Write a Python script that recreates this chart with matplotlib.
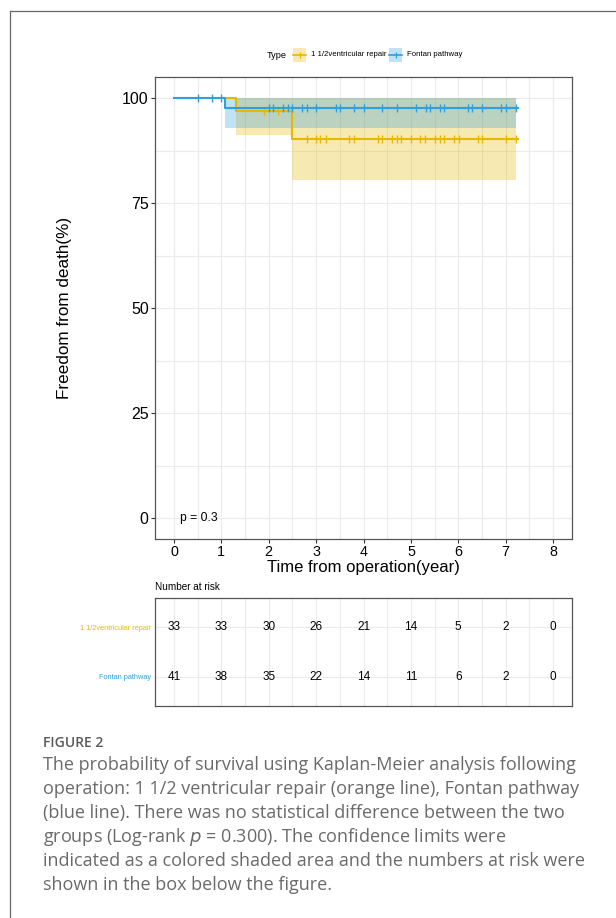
import numpy as np
import matplotlib
matplotlib.use("Agg")
from matplotlib import pyplot as plt
from matplotlib.patches import Rectangle
from matplotlib.lines import Line2D

W, H = 616, 918

# Kaplan-Meier steps (time in years, survival in %)
groups = ["1 1/2ventricular repair", "Fontan pathway"]
colors = ["#E7B800", "#2E9FDF"]

orange_time = [0, 1.31, 2.50]
orange_surv = [100, 96.97, 90.28]
orange_lower = [100, 91.3, 80.4]
orange_upper = [100, 100, 100]
orange_end = 7.25
orange_censor = [1.91, 2.20, 2.80, 3.00, 3.09, 3.20, 3.70, 3.80, 4.30, 4.39, 4.60,
                 4.70, 4.80, 5.00, 5.20, 5.30, 5.51, 5.61, 5.70, 5.91, 6.01, 6.41,
                 6.51, 7.00, 7.21]

blue_time = [0, 1.08]
blue_surv = [100, 97.56]
blue_lower = [100, 92.95]
blue_upper = [100, 100]
blue_end = 7.25
blue_censor = [0.50, 0.80, 0.99, 2.00, 2.10, 2.30, 2.40, 2.50, 2.71, 2.80, 3.00,
               3.41, 3.50, 3.80, 4.00, 4.40, 4.70, 5.10, 5.31, 5.41, 5.61, 5.70,
               6.21, 6.30, 6.50, 6.91, 7.01, 7.22]
band_end = 7.21

risk_times = [0, 1, 2, 3, 4, 5, 6, 7, 8]
risk_orange = [33, 33, 30, 26, 21, 14, 5, 2, 0]
risk_blue = [41, 38, 35, 22, 14, 11, 6, 2, 0]

caption_title = "FIGURE 2"
caption_lines = [
    "The probability of survival using Kaplan-Meier analysis following",
    "operation: 1 1/2 ventricular repair (orange line), Fontan pathway",
    "(blue line). There was no statistical difference between the two",
    "groups (Log-rank $p$ = 0.300). The confidence limits were",
    "indicated as a colored shaded area and the numbers at risk were",
    "shown in the box below the figure.",
]


def px_axes(fig, left, top, right, bottom):
    return fig.add_axes([left / W, 1 - bottom / H, (right - left) / W, (bottom - top) / H])


def surv_at(times, surv, t):
    idx = np.searchsorted(times, t, side="right") - 1
    return np.asarray(surv)[idx]


def style_grid(ax):
    ax.set_facecolor("white")
    ax.grid(True, which="both", color="#EBEBEB", linewidth=0.8)
    ax.set_axisbelow(True)
    for s in ax.spines.values():
        s.set_color("#555555")
        s.set_linewidth(0.9)


plt.rcParams["font.family"] = ["Liberation Sans", "DejaVu Sans"]
fig = plt.figure(figsize=(W / 100, H / 100), dpi=100)

# ---- survival curves ----
ax = px_axes(fig, 155, 77, 572, 539)
style_grid(ax)
ax.set_xlim(-0.4, 8.4)
ax.set_ylim(-5, 105)
ax.set_xticks(range(0, 9))
ax.set_xticks(np.arange(0.5, 8.5, 1), minor=True)
ax.set_yticks([0, 25, 50, 75, 100])
ax.set_yticks([12.5, 37.5, 62.5, 87.5], minor=True)
ax.tick_params(axis="both", which="major", length=3, color="#333333",
               labelcolor="black", pad=1.5)
ax.tick_params(axis="y", which="major", labelsize=11.5)
ax.tick_params(axis="x", which="major", labelsize=10.3)
ax.tick_params(axis="both", which="minor", length=0)

curves = [
    (orange_time, orange_surv, orange_lower, orange_upper, orange_end, orange_censor),
    (blue_time, blue_surv, blue_lower, blue_upper, blue_end, blue_censor),
]
for (t, s, lo, up, end, cens), c in zip(curves, colors):
    tt = list(t) + [band_end]
    ax.fill_between(tt, list(lo) + [lo[-1]], list(up) + [up[-1]], step="post",
                    color=c, alpha=0.3, linewidth=0)
for (t, s, lo, up, end, cens), c in zip(curves, colors):
    ax.step(list(t) + [end], list(s) + [s[-1]], where="post", color=c, linewidth=1.5)
    ax.plot(cens, surv_at(t, s, cens), linestyle="none", marker="|", markersize=6,
            markeredgewidth=1.0, color=c)

ax.text(0.12, 0, "p = 0.3", fontsize=8.7, va="center", ha="left")
ax.set_xlabel("Time from operation(year)", fontsize=12.0, labelpad=0.5)
ax.set_ylabel("Freedom from death(%)", fontsize=12.3)
ax.yaxis.set_label_coords(-0.198, 0.5)

# ---- legend strip ----
lg = px_axes(fig, 0, 40, W, 70)
lg.set_xlim(0, W)
lg.set_ylim(70, 40)
lg.axis("off")
lg.text(267, 55, "Type", fontsize=6.6, va="center", ha="left")
for x0, c, label in [(293, colors[0], groups[0]), (389, colors[1], groups[1])]:
    lg.add_patch(Rectangle((x0, 48), 13, 14, facecolor=c, alpha=0.3, linewidth=0))
    lg.plot([x0, x0 + 13], [55, 55], color=c, linewidth=1.2)
    lg.plot([x0 + 6.5], [55], marker="|", markersize=5, markeredgewidth=0.9, color=c)
    lg.text(x0 + 18, 55, label, fontsize=5.6, va="center", ha="left")

# ---- number at risk table ----
fig.text(155 / W, 1 - 587 / H, "Number at risk", fontsize=7.2, va="center", ha="left")
tb = px_axes(fig, 155, 598, 572, 706)
style_grid(tb)
tb.set_xlim(-0.4, 8.4)
tb.set_ylim(0.4, 2.6)
tb.set_xticks(range(0, 9))
tb.set_xticks(np.arange(0.5, 8.5, 1), minor=True)
tb.set_yticks([1, 2])
tb.set_xticklabels([])
tb.set_yticklabels(groups[::-1], fontsize=5.3)
for lbl, c in zip(tb.get_yticklabels(), colors[::-1]):
    lbl.set_color(c)
tb.tick_params(axis="both", which="both", length=0, pad=3)
for row, counts in [(2, risk_orange), (1, risk_blue)]:
    for t, n in zip(risk_times, counts):
        tb.text(t, row, str(n), fontsize=8.5, ha="center", va="center")

# ---- page frame and caption ----
fig.add_artist(Line2D([10 / W, 1], [1 - 11 / H, 1 - 11 / H], color="#666666", linewidth=0.9))
fig.add_artist(Line2D([10 / W, 10 / W], [0, 1 - 11 / H], color="#666666", linewidth=0.9))

fig.text(43 / W, 1 - 747 / H, caption_title, fontsize=10, color="#5a5a5a",
         family=["Open Sans", "DejaVu Sans"], fontweight="semibold", va="baseline", ha="left")
for i, line in enumerate(caption_lines):
    fig.text(43 / W, 1 - (770 + 24 * i) / H, line, fontsize=12.95, color="#6a6a6a",
             family=["Open Sans", "DejaVu Sans"], va="baseline", ha="left")

fig.savefig("out.png", dpi=100)
